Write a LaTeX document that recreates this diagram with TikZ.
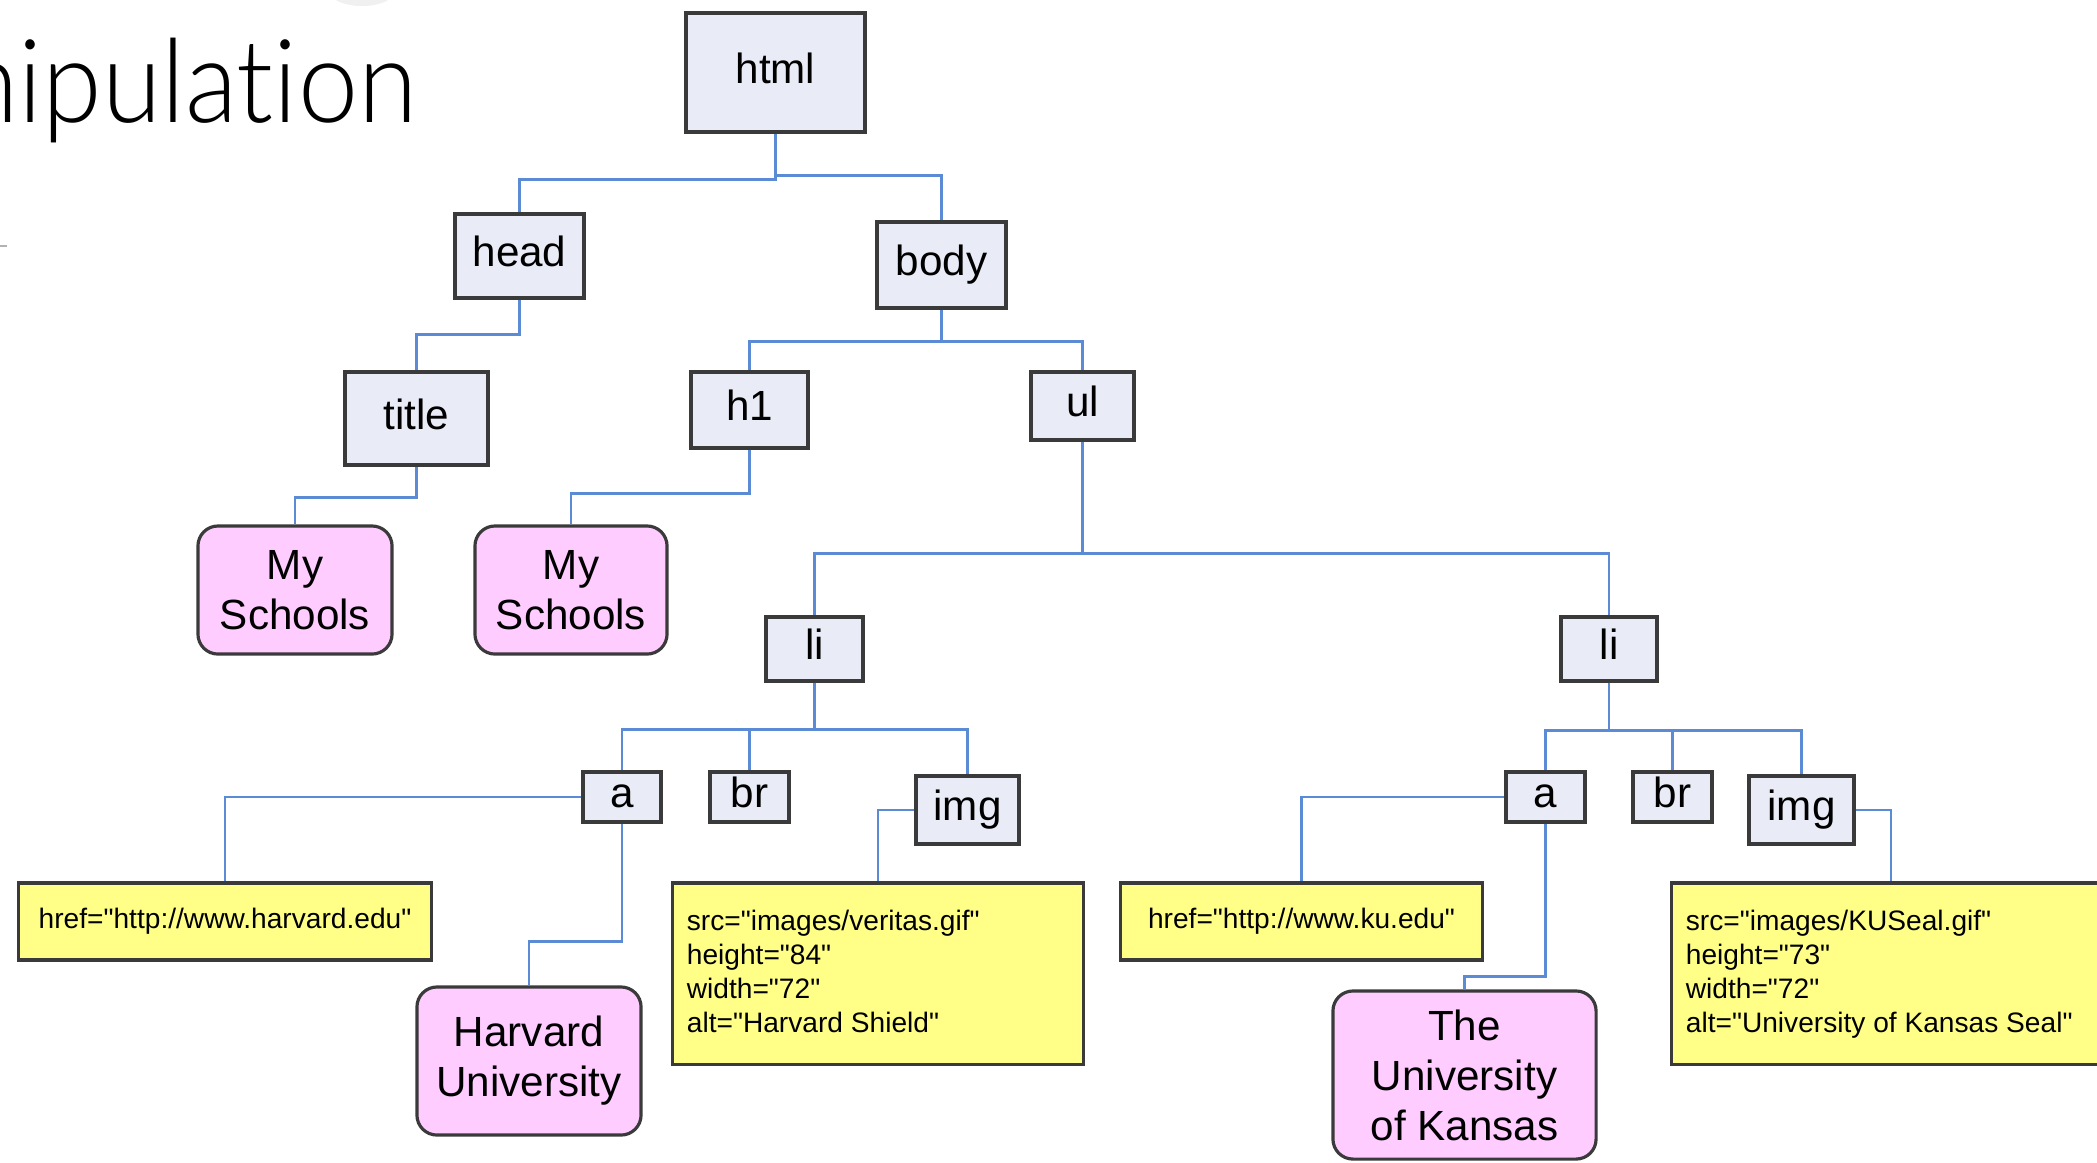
\documentclass[tikz,border=0pt]{standalone}
\usepackage{fontspec}
\setmainfont{Liberation Sans}
\newfontfamily\attrfont{Liberation Sans}[Ligatures=TeXOff]
\newfontfamily\lightfont{Lato Light}[Ligatures=NoCommon]
\usepackage{graphicx}
\definecolor{boxfill}{HTML}{E9ECF6}
\definecolor{boxline}{HTML}{3A3A3A}
\definecolor{conncol}{HTML}{5B8BD5}
\definecolor{pinkfill}{HTML}{FFCCFF}
\definecolor{yellowfill}{HTML}{FFFF88}
\tikzset{
  tag/.style={draw=boxline, fill=boxfill, line width=0.9pt, inner sep=0pt,
    font=\fontsize{12}{14.2}\selectfont, text height=0.82em, text depth=0.20em},
  textbox/.style={draw=boxline, fill=pinkfill, line width=0.9pt, rounded corners=0.2cm,
    inner sep=0pt, align=center, font=\fontsize{12}{14.2}\selectfont},
  attr/.style={draw=boxline, fill=yellowfill, line width=0.9pt, inner sep=0pt,
    font=\attrfont\fontsize{8}{9.7}\selectfont},
  conn/.style={draw=conncol, line width=0.8pt},
}
\begin{document}
\begin{tikzpicture}[x=0.01cm, y=-0.01cm]
\useasboundingbox (0,0) rectangle (2097,1162);
\clip (0,0) rectangle (2097,1162);

% slide remnants
\fill[gray!12] (362,-6) ellipse (30 and 12);
\draw[gray!60, line width=0.6pt] (0,246) -- (7,246);
\node[anchor=base east, inner sep=0pt, font=\lightfont\fontsize{33}{38}\selectfont] (pagetitle) at (418,122) {\scalebox{0.93}[1]{nipulation}};

% element nodes
\node[tag, minimum width=1.79cm, minimum height=1.19cm] (html) at (775.5,72.5) {html};
\node[tag, minimum width=1.29cm, minimum height=0.84cm] (head) at (519.5,256) {head};
\node[tag, minimum width=1.29cm, minimum height=0.86cm] (body) at (941.5,265) {body};
\node[tag, minimum width=1.43cm, minimum height=0.93cm] (title) at (416.5,418.5) {title};
\node[tag, minimum width=1.17cm, minimum height=0.76cm] (h1) at (749.5,410) {h1};
\node[tag, minimum width=1.03cm, minimum height=0.68cm] (ul) at (1082.5,406) {ul};
\node[tag, minimum width=0.97cm, minimum height=0.64cm] (li1) at (814.5,649) {li};
\node[tag, minimum width=0.96cm, minimum height=0.64cm] (li2) at (1609,649) {li};
\node[tag, minimum width=0.78cm, minimum height=0.50cm] (a1) at (622,797) {a};
\node[tag, minimum width=0.79cm, minimum height=0.50cm] (br1) at (749.5,797) {br};
\node[tag, minimum width=1.03cm, minimum height=0.68cm] (img1) at (967.5,810) {img};
\node[tag, minimum width=0.79cm, minimum height=0.50cm] (a2) at (1545.5,797) {a};
\node[tag, minimum width=0.79cm, minimum height=0.50cm] (br2) at (1672.5,797) {br};
\node[tag, minimum width=1.05cm, minimum height=0.68cm] (img2) at (1801.5,810) {img};

% text nodes
\node[textbox, minimum width=1.94cm, minimum height=1.28cm] (ms1) at (295,590) {My\\Schools};
\node[textbox, minimum width=1.92cm, minimum height=1.28cm] (ms2) at (571,590) {My\\Schools};
\node[textbox, minimum width=2.24cm, minimum height=1.48cm] (harvard) at (529,1061) {Harvard\\University};
\node[textbox, minimum width=2.63cm, minimum height=1.68cm] (ku) at (1464.5,1075) {The\\University\\of Kansas};

% attribute nodes
\node[attr, minimum width=4.12cm, minimum height=0.77cm] (href1) at (225,921.5) {href="http://www.harvard.edu"};
\node[attr, minimum width=3.61cm, minimum height=0.77cm] (href2) at (1301.5,921.5) {href="http://www.ku.edu"};
\node[attr, minimum width=4.10cm, minimum height=1.81cm] (src1) at (878,973.5)
  {\parbox[c][1.81cm][t]{3.82cm}{\vspace*{0.27cm}src="images/veritas.gif"\\height="84"\\width="72"\\alt="Harvard Shield"}};
\node[attr, minimum width=4.38cm, minimum height=1.81cm] (src2) at (1891,973.5)
  {\parbox[c][1.81cm][t]{4.10cm}{\vspace*{0.27cm}src="images/KUSeal.gif"\\height="73"\\width="72"\\alt="University of Kansas Seal"}};

% connectors
\draw[conn] (html.south) -- ++(0,46) -| (head.north);
\draw[conn] (html.south) -- ++(0,42) -| (body.north);
\draw[conn] (head.south) -- ++(0,35) -| (title.north);
\draw[conn] (title.south) -- ++(0,31) -| (ms1.north);
\draw[conn] (body.south) -- ++(0,32) -| (h1.north);
\draw[conn] (body.south) -- ++(0,32) -| (ul.north);
\draw[conn] (h1.south) -- ++(0,44) -| (ms2.north);
\draw[conn] (ul.south) -- ++(0,112) -| (li1.north);
\draw[conn] (ul.south) -- ++(0,112) -| (li2.north);
\draw[conn] (li1.south) -- ++(0,47) -| (a1.north);
\draw[conn] (li1.south) -- ++(0,47) -| (br1.north);
\draw[conn] (li1.south) -- ++(0,47) -| (img1.north);
\draw[conn] (a1.west) -| (href1.north);
\draw[conn] (a1.south) -- ++(0,118) -| (harvard.north);
\draw[conn] (img1.west) -| (src1.north);
\draw[conn] (li2.south) -- ++(0,48) -| (a2.north);
\draw[conn] (li2.south) -- ++(0,48) -| (br2.north);
\draw[conn] (li2.south) -- ++(0,48) -| (img2.north);
\draw[conn] (a2.west) -| (href2.north);
\draw[conn] (a2.south) -- ++(0,153) -| (ku.north);
\draw[conn] (img2.east) -| (src2.north);
\end{tikzpicture}
\end{document}
